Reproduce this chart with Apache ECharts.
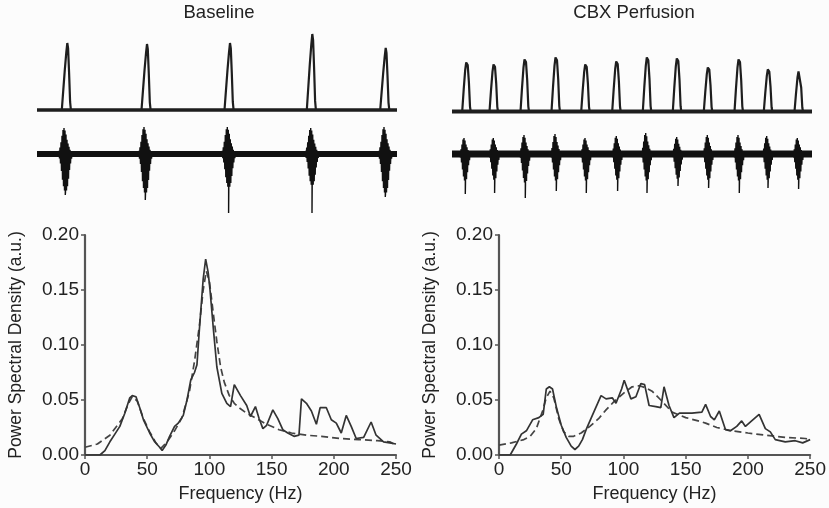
<!DOCTYPE html>
<html>
<head>
<meta charset="utf-8">
<script src="https://cdn.jsdelivr.net/npm/echarts@6/dist/echarts.min.js"></script>
<style>
  html, body { margin: 0; padding: 0; background: #fcfcfc; }
  #chart { width: 829px; height: 508px; }
</style>
</head>
<body>
<div id="chart"></div>
<script>
// ---------- Recorded traces (time in samples, amplitude in arbitrary units) ----------
// Upper trace: slow wave peaks; lower trace: extracellular burst envelopes.
const baselinePeakTimes   = [30.3, 110, 193, 275.3, 348.7];
const baselinePeakAmps    = [67, 66, 67, 76, 62];
const baselineBurstTimes  = [28, 108, 191.3, 274.7, 348];
const baselineBurstUp     = [26, 27, 27, 26, 27];
const baselineBurstBody   = [38, 40, 34, 32, 40];
const baselineBurstTail   = [41, 46, 59, 59, 43];

const cbxPeakTimes  = [14.7, 42, 73, 104, 133.7, 164.7, 195.3, 225.3, 256.3, 287, 316.3, 347];
const cbxPeakAmps   = [49, 47, 52, 54, 47, 50, 54, 53, 44, 52, 42, 40];
const cbxBurstTimes = [13, 42.3, 73, 104, 134, 165.3, 194.7, 225.7, 256.3, 287, 315.7, 346.3];
const cbxBurstUp    = [16, 16, 19, 20, 16, 18, 21, 17, 19, 19, 18, 16];
const cbxBurstBody  = [28, 27, 30, 28, 28, 27, 28, 26, 27, 28, 27, 27];
const cbxBurstTail  = [40, 39, 44, 37, 39, 37, 39, 32, 34, 39, 34, 35];

// Waveform shapes: [time offset, fraction of peak]
const baselineSpikeShape = [[-5.5,0],[-4,0.3],[-2.5,0.6],[-1,0.86],[0,1],[0.8,0.92],[1.8,0.55],[2.8,0.12],[3.6,0]];
const cbxSpikeShape      = [[-4.5,0],[-3,0.45],[-1.5,0.85],[-0.5,1],[1,0.95],[2.2,0.6],[3.3,0.1],[4,0]];

const baselineBurstOffsets = [-6,-5,-4,-3,-2,-1,0,1,2,3,4,5,6];
const baselineBurstUpEnv   = [0.12,0.25,0.45,0.7,0.92,1,0.9,0.75,0.55,0.4,0.28,0.16,0.08];
const baselineBurstDownEnv = [0.12,0.25,0.45,0.68,0.85,0.96,1,0.96,0.85,0.65,0.42,0.25,0.12];
const cbxBurstOffsets = [-5,-4,-3,-2,-1,0,1,2,3,4,5];
const cbxBurstUpEnv   = [0.12,0.3,0.6,0.9,1,0.85,0.6,0.42,0.25,0.15,0.08];
const cbxBurstDownEnv = [0.12,0.3,0.55,0.8,0.95,1,0.9,0.65,0.4,0.22,0.1];

// ---------- Power spectra: [frequency (Hz), PSD (a.u.)] ----------
const baselinePSD = [[0,0],[12,0],[16,0.004],[20,0.012],[24,0.019],[28,0.026],[32,0.038],[36,0.052],[38,0.054],[41,0.053],[44,0.043],[47,0.032],[52,0.020],[56,0.012],[60,0.007],[62,0.004],[65,0.009],[68,0.017],[72,0.026],[75,0.029],[79,0.036],[82,0.050],[85,0.068],[88,0.075],[90,0.082],[92,0.115],[95,0.160],[97,0.178],[99,0.166],[100.5,0.150],[103,0.117],[106,0.080],[110,0.056],[114,0.047],[117,0.044],[120,0.064],[125,0.054],[130,0.045],[133,0.035],[137,0.044],[140,0.033],[143,0.024],[146,0.027],[151,0.041],[155,0.033],[159,0.023],[163,0.020],[168,0.017],[172,0.018],[174,0.051],[178,0.047],[182,0.040],[186,0.028],[189,0.043],[194,0.043],[198,0.032],[202,0.029],[206,0.020],[210,0.036],[214,0.026],[218,0.015],[224,0.016],[230,0.030],[234,0.018],[240,0.012],[245,0.011],[250,0.010]];
const baselineFit = [[0,0.007],[10,0.010],[20,0.018],[30,0.033],[35,0.047],[38,0.053],[42,0.049],[47,0.033],[52,0.021],[57,0.011],[61,0.006],[66,0.012],[72,0.022],[78,0.034],[84,0.058],[88,0.085],[92,0.118],[95,0.150],[97.5,0.167],[100,0.158],[103,0.130],[106,0.103],[109,0.080],[112,0.066],[116,0.054],[120,0.047],[125,0.042],[130,0.038],[138,0.033],[146,0.028],[156,0.023],[166,0.020],[178,0.018],[190,0.017],[205,0.015],[220,0.014],[235,0.013],[245,0.012],[250,0.009]];

const cbxPSD = [[0,0],[9,0],[14,0.010],[18,0.019],[22,0.022],[27,0.032],[32,0.034],[35.5,0.037],[38,0.060],[40.5,0.062],[43,0.060],[46,0.044],[50,0.027],[54,0.016],[58,0.008],[61,0.005],[64,0.008],[67,0.014],[70,0.023],[75,0.036],[82,0.054],[86,0.051],[91,0.052],[94,0.047],[98.5,0.060],[100.6,0.068],[106,0.051],[110,0.053],[114,0.065],[117,0.064],[120.6,0.045],[126,0.044],[130,0.043],[132.6,0.062],[136.6,0.045],[140.6,0.034],[145,0.038],[155,0.038],[163,0.039],[166,0.046],[170,0.035],[173,0.032],[177,0.040],[182,0.023],[186,0.022],[191,0.026],[195,0.031],[198,0.026],[203,0.031],[209,0.037],[214,0.024],[218,0.021],[222,0.014],[230,0.012],[238,0.013],[244,0.011],[250,0.014]];
const cbxFit = [[0,0.009],[10,0.011],[20,0.014],[25,0.017],[30,0.024],[35,0.040],[38,0.052],[41,0.058],[44,0.052],[48,0.033],[52,0.021],[56,0.017],[60,0.017],[66,0.020],[73,0.026],[80,0.033],[86,0.041],[92,0.048],[97,0.053],[102,0.058],[107,0.062],[113,0.063],[118,0.061],[123,0.058],[130,0.050],[139,0.039],[150,0.034],[160,0.031],[166,0.029],[175,0.025],[187,0.022],[200,0.020],[214,0.018],[230,0.016],[246,0.015],[250,0.014]];

const panelTitles = ['Baseline', 'CBX Perfusion'];

// ---------- Trace builders ----------
const TRACE_LEN = 360;
const LOWER_BASE = -44;

function buildUpper(times, amps, shape) {
  const pts = [[0, 0]];
  times.forEach((t, i) => shape.forEach(([dt, f]) => pts.push([t + dt, f * amps[i]])));
  pts.push([TRACE_LEN, 0]);
  return pts;
}

function buildLower(times, ups, bodies, tails, offsets, upEnv, downEnv) {
  const pts = [[0, LOWER_BASE]];
  times.forEach((t, i) => {
    pts.push([t + offsets[0] - 0.5, LOWER_BASE]);
    offsets.forEach((o, j) => {
      pts.push([t + o, LOWER_BASE + ups[i] * upEnv[j]]);
      pts.push([t + o + 0.5, LOWER_BASE - bodies[i] * downEnv[j]]);
      if (o === 0) {
        pts.push([t + 0.3, LOWER_BASE - tails[i]]);
        pts.push([t + 0.4, LOWER_BASE]);
      }
    });
    pts.push([t + offsets[offsets.length - 1] + 1, LOWER_BASE]);
  });
  pts.push([TRACE_LEN, LOWER_BASE]);
  return pts;
}

// ---------- Chart ----------
const FONT = '"Liberation Sans", Arial, Helvetica, sans-serif';
const chart = echarts.init(document.getElementById('chart'), null, { renderer: 'canvas' });

const hiddenAxis = { show: false };
const traceX = (i) => ({ type: 'value', gridIndex: i, min: 0, max: TRACE_LEN, ...hiddenAxis });
const traceY = (i) => ({ type: 'value', gridIndex: i, min: -110, max: 80, ...hiddenAxis });

const axisLine = { show: true, lineStyle: { color: '#555', width: 2.2 } };
const axisTick = { show: true, inside: false, length: 4, lineStyle: { color: '#555', width: 1.5 } };

const freqAxis = (i) => ({
  type: 'value', gridIndex: i, min: 0, max: 250, interval: 50,
  name: 'Frequency (Hz)', nameLocation: 'middle', nameGap: 30,
  nameTextStyle: { fontFamily: FONT, fontSize: 18, color: '#222' },
  axisLine, axisTick, splitLine: { show: false },
  axisLabel: { fontFamily: FONT, fontSize: 19, color: '#222', margin: 5 }
});
const psdAxis = (i) => ({
  type: 'value', gridIndex: i, min: 0, max: 0.2, interval: 0.05,
  name: 'Power Spectral Density (a.u.)', nameLocation: 'middle', nameGap: 60, nameRotate: 90,
  nameTextStyle: { fontFamily: FONT, fontSize: 17.5, color: '#222' },
  axisLine, axisTick, splitLine: { show: false },
  axisLabel: { fontFamily: FONT, fontSize: 19, color: '#222', margin: 6,
               formatter: (v) => v.toFixed(2) }
});

const line = (xi, data, opts) => Object.assign({
  type: 'line', xAxisIndex: xi, yAxisIndex: xi, data,
  showSymbol: false, symbol: 'none', animation: false, silent: true, z: 3
}, opts);

const titleStyle = { fontFamily: FONT, fontSize: 18.5, fontWeight: 'normal', color: '#222' };

const option = {
  backgroundColor: '#fcfcfc',
  animation: false,
  title: [
    { text: panelTitles[0], left: 219, top: 3, padding: 0, textAlign: 'center', textStyle: titleStyle },
    { text: panelTitles[1], left: 634, top: 3, padding: 0, textAlign: 'center', textStyle: titleStyle }
  ],
  grid: [
    { left: 37, top: 30, width: 360, height: 190 },
    { left: 452, top: 30, width: 360, height: 190 },
    { left: 85, top: 235, width: 311, height: 220 },
    { left: 499, top: 235, width: 313, height: 220 }
  ],
  xAxis: [traceX(0), traceX(1), freqAxis(2), freqAxis(3)],
  yAxis: [traceY(0), traceY(1), psdAxis(2), psdAxis(3)],
  series: [
    // Baseline traces
    line(0, [[0, 0], [TRACE_LEN, 0]], { lineStyle: { color: '#1e1e1e', width: 3.6 } }),
    line(0, buildUpper(baselinePeakTimes, baselinePeakAmps, baselineSpikeShape),
      { lineStyle: { color: '#1e1e1e', width: 2.2 } }),
    line(0, [[0, LOWER_BASE], [TRACE_LEN, LOWER_BASE]], { lineStyle: { color: '#111', width: 6 } }),
    line(0, buildLower(baselineBurstTimes, baselineBurstUp, baselineBurstBody, baselineBurstTail,
      baselineBurstOffsets, baselineBurstUpEnv, baselineBurstDownEnv),
      { lineStyle: { color: '#111', width: 1.4 } }),
    // CBX traces
    line(1, [[0, -1.5], [TRACE_LEN, -1.5]], { lineStyle: { color: '#1e1e1e', width: 3.8 } }),
    line(1, buildUpper(cbxPeakTimes, cbxPeakAmps, cbxSpikeShape).map(([t, v]) => [t, v - 1.5]),
      { lineStyle: { color: '#1e1e1e', width: 2.2 } }),
    line(1, [[0, LOWER_BASE], [TRACE_LEN, LOWER_BASE]], { lineStyle: { color: '#111', width: 7 } }),
    line(1, buildLower(cbxBurstTimes, cbxBurstUp, cbxBurstBody, cbxBurstTail,
      cbxBurstOffsets, cbxBurstUpEnv, cbxBurstDownEnv),
      { lineStyle: { color: '#111', width: 1.4 } }),
    // Spectra
    line(2, baselineFit, { lineStyle: { color: '#444', width: 1.7, type: [7, 4] } }),
    line(2, baselinePSD, { lineStyle: { color: '#333', width: 1.7 } }),
    line(3, cbxFit, { lineStyle: { color: '#444', width: 1.7, type: [7, 4] } }),
    line(3, cbxPSD, { lineStyle: { color: '#333', width: 1.7 } })
  ]
};

chart.setOption(option);
</script>
</body>
</html>
